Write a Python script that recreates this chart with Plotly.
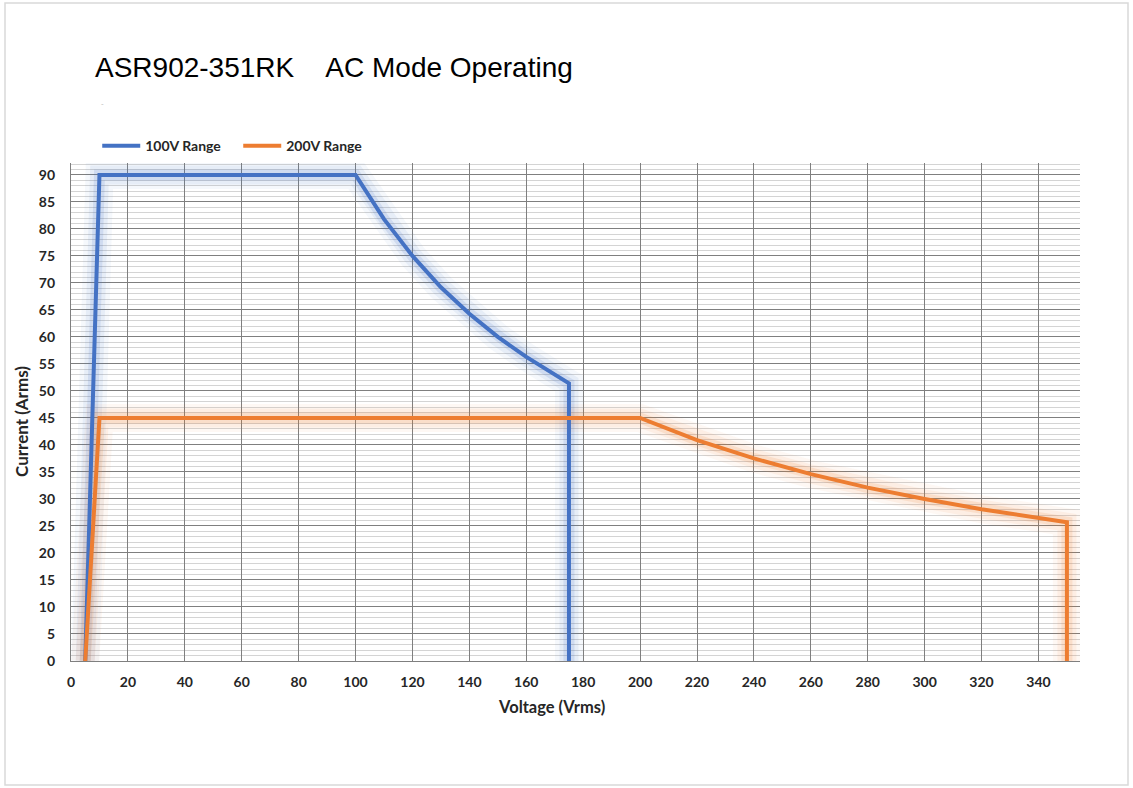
import plotly.graph_objects as go

# Data
v100 = [5, 10, 100, 110, 120, 130, 140, 150, 160, 170, 175, 175]
i100 = [0, 90, 90, 81.8, 75, 69.2, 64.3, 60, 56.3, 52.9, 51.4, 0]
v200 = [5, 10, 200, 220, 240, 260, 280, 300, 320, 340, 350, 350]
i200 = [0, 45, 45, 40.9, 37.5, 34.6, 32.1, 30, 28.1, 26.5, 25.7, 0]
x_ticks = list(range(0, 341, 20))
y_ticks = list(range(0, 91, 5))

BLUE = "#4472C4"
ORANGE = "#ED7D31"
FONT = "Lato"
TXT = "#262626"

fig = go.Figure()

# soft glow layers under each line
for xs, ys, col in [(v100, i100, "rgba(68,114,196,"), (v200, i200, "rgba(237,125,49,")]:
    for w, a in [(28, 0.05), (19, 0.08), (11, 0.14)]:
        fig.add_trace(go.Scatter(x=xs, y=ys, mode="lines", showlegend=False, hoverinfo="skip",
                                 line=dict(color=col + str(a) + ")", width=w)))

fig.add_trace(go.Scatter(x=v100, y=i100, mode="lines", name="100V Range",
                         line=dict(color=BLUE, width=4)))
fig.add_trace(go.Scatter(x=v200, y=i200, mode="lines", name="200V Range",
                         line=dict(color=ORANGE, width=4)))

fig.update_layout(
    width=1133, height=788,
    margin=dict(l=71, r=53, t=163, b=127),
    paper_bgcolor="white", plot_bgcolor="white",
    font=dict(family=FONT, color=TXT),
    showlegend=True,
    legend=dict(orientation="h", x=0.026, xanchor="left", y=1.034, yanchor="middle",
                font=dict(family=FONT, size=14, color=TXT, weight="bold"),
                bgcolor="rgba(0,0,0,0)", itemwidth=38, entrywidth=88, tracegroupgap=0),
    xaxis=dict(range=[0, 354.6], tickvals=x_ticks, showgrid=True, gridcolor="#7f7f7f", gridwidth=1.2,
               zeroline=False, showline=True, linecolor="#7f7f7f", linewidth=1.2,
               tickfont=dict(family=FONT, size=14, color=TXT, weight="bold"),
               ticks="", ticklabelstandoff=8),
    yaxis=dict(range=[0, 92.2], tickvals=y_ticks, showgrid=True, gridcolor="#7f7f7f", gridwidth=1.2,
               zeroline=False, showline=True, linecolor="#7f7f7f", linewidth=1.2,
               tickfont=dict(family=FONT, size=14, color=TXT, weight="bold"),
               ticks="", ticklabelstandoff=12,
               minor=dict(dtick=1, showgrid=True, gridcolor="#d4d4d4", gridwidth=1)),
    annotations=[
        dict(text="ASR902-351RK\u00a0\u00a0\u00a0\u00a0AC Mode Operating", xref="paper", yref="paper",
             x=0.0218, y=1.191, xanchor="left", yanchor="middle", showarrow=False,
             font=dict(family="Liberation Sans", size=28, color="#000000")),
        dict(text="-", xref="paper", yref="paper", x=0.028, y=1.12, xanchor="left", yanchor="middle",
             showarrow=False, font=dict(family="Liberation Sans", size=8, color="#bbbbbb")),
        dict(text="Voltage (Vrms)", xref="paper", yref="paper", x=(551 - 71) / 1009, y=-0.092,
             xanchor="center", yanchor="middle", showarrow=False,
             font=dict(family=FONT, size=16.5, color=TXT, weight="bold")),
        dict(text="Current (Arms)", xref="paper", yref="paper", x=(21 - 71) / 1009, y=(661 - 422) / 498,
             xanchor="center", yanchor="middle", textangle=-90, showarrow=False,
             font=dict(family=FONT, size=17, color=TXT, weight="bold")),
    ],
    shapes=[
        dict(type="rect", xref="paper", yref="paper",
             x0=(5 - 71) / 1009, x1=(1128 - 71) / 1009, y0=(661 - 785) / 498, y1=(661 - 3) / 498,
             line=dict(color="#d9d9d9", width=1.5), fillcolor="rgba(0,0,0,0)", layer="below"),
    ],
)

fig.write_html("out.html", config={"displayModeBar": False},
               post_script="document.body.style.margin='0';")
